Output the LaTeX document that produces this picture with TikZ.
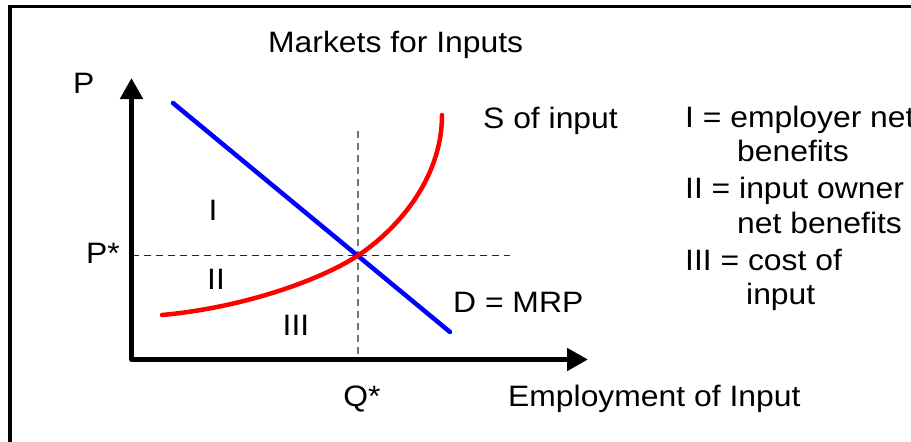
\documentclass[tikz,border=0pt]{standalone}
\usepackage{fontspec}
\setmainfont{Liberation Sans}[FakeStretch=1.08]
\usepackage{tikz}
\usetikzlibrary{arrows.meta}

\begin{document}
\begin{tikzpicture}[x=1pt,y=-1pt,
  lbl/.style={inner sep=0pt,anchor=base west,font=\fontsize{29.5}{34}\selectfont},
  clbl/.style={lbl,anchor=base},
  axis/.style={line width=5pt,line join=round,
               {Triangle[length=21pt,width=22pt]}-{Triangle[length=21pt,width=22pt]}},
  guide/.style={line width=1.1pt,dash pattern=on 7pt off 5pt},
  demand/.style={line width=4.5pt,color=blue,line cap=round},
  supply/.style={line width=4.5pt,color=red,line cap=round}
]
\useasboundingbox (0,0) rectangle (911,442);

% Rahmen
\draw[line width=3.5pt] (10,442) -- (10,6.5) -- (911,6.5);

% Punkte
\coordinate (O)    at (131.5,359.5);
\coordinate (ytip) at (131.5,78);
\coordinate (xtip) at (588,359.5);
\coordinate (eq)   at (358,255.5);
\coordinate (pend) at (510,255.5);
\coordinate (qtop) at (358,131);
\coordinate (pax)  at (131.5,255.5);
\coordinate (qax)  at (358,359.5);
\coordinate (d1)   at (173,103);
\coordinate (d2)   at (450,332);
\coordinate (s1)   at (162,315);
\coordinate (s2)   at (442,115);

% Hilfslinien
\draw[guide,black!85] (pax) -- (pend);
\draw[guide,black!55] (qtop) -- (qax);

% Achsen
\draw[axis] (ytip) -- (O) -- (xtip);

% Kurven
\draw[demand] (d1) -- (d2);
\draw[supply] (s1) .. controls (240,308) and (318,281.5) .. (eq)
                   .. controls (393,232.5) and (442,182) .. (s2);

% Beschriftungen
\node[lbl]  (title) at (268,52)  {Markets for Inputs};
\node[lbl]  (plab)  at (73,93)   {P};
\node[lbl]  (pstar) at (86,263)  {P*};
\node[clbl] (qstar) at (362,406) {Q*};
\node[lbl]  (xlab)  at (508,406) {Employment of Input};
\node[lbl]  (slab)  at (483,128) {S of input};
\node[lbl]  (dlab)  at (453,312) {D = MRP};
\node[clbl] (r1)    at (213,220) {I};
\node[clbl] (r2)    at (216,289) {II};
\node[clbl] (r3)    at (296,335) {III};

% Legende
\node[lbl] (k1a) at (685,127) {I = employer net};
\node[lbl] (k1b) at (737,161) {benefits};
\node[lbl] (k2a) at (685,198) {II = input owner};
\node[lbl] (k2b) at (737,233) {net benefits};
\node[lbl] (k3a) at (685,270) {III = cost of};
\node[lbl] (k3b) at (746,304) {input};

\end{tikzpicture}
\end{document}
